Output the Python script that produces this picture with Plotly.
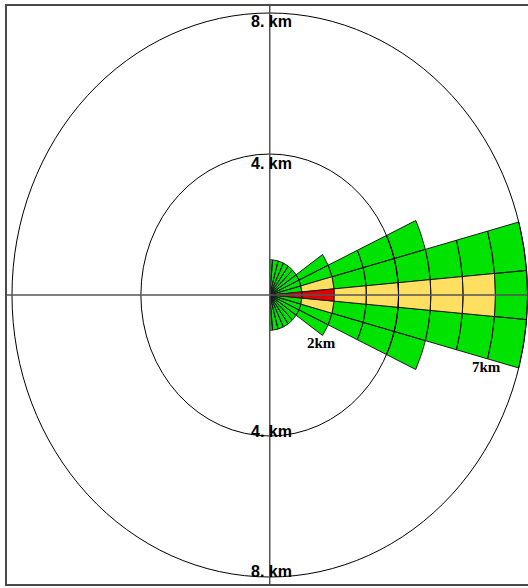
import numpy as np
import plotly.graph_objects as go

# ---------------- data ----------------
ring_inner_km = [0, 1, 2, 3, 4, 5, 6, 7]
ring_outer_km = [1, 2, 3, 4, 5, 6, 7, 8]
# level of each sector, centre sector first, then outward (mirrored both sides)
# 1 = low (green), 2 = medium (yellow), 3 = high (red)
ring_levels = [
    [3, 1, 1, 1, 1, 1, 1, 1, 1, 1],
    [3, 2, 1, 1],
    [2, 1, 1],
    [2, 1, 1],
    [2, 1, 1],
    [2, 1],
    [2, 1],
    [1, 1],
]
sector_width_deg = 10
max_half_angle_deg = 90

level_colors = {1: "#00e200", 2: "#ffdf60", 3: "#e00000"}

circle_km = [4, 8]
circle_labels = ["4. km", "8. km"]

dist_labels = ["2km", "7km"]
dist_label_r = [2, 7]
dist_label_theta = [-35, -15]

# ---------------- geometry helpers ----------------
def sector_xy(r0, r1, a0, a1):
    ang = np.radians(np.linspace(a0, a1, 24))
    xs = list(r1 * np.cos(ang))
    ys = list(r1 * np.sin(ang))
    if r0 > 0:
        xs += list(r0 * np.cos(ang[::-1]))
        ys += list(r0 * np.sin(ang[::-1]))
    else:
        xs.append(0.0)
        ys.append(0.0)
    xs.append(xs[0])
    ys.append(ys[0])
    return xs, ys

poly = {lvl: ([], []) for lvl in level_colors}
half = sector_width_deg / 2
for r0, r1, levels in zip(ring_inner_km, ring_outer_km, ring_levels):
    for k, lvl in enumerate(levels):
        if k == 0:
            spans = [(-half, half)]
        else:
            lo = half + sector_width_deg * (k - 1)
            hi = min(half + sector_width_deg * k, max_half_angle_deg)
            spans = [(lo, hi), (-hi, -lo)]
        for a0, a1 in spans:
            xs, ys = sector_xy(r0, r1, a0, a1)
            poly[lvl][0].extend(xs + [None])
            poly[lvl][1].extend(ys + [None])

fig = go.Figure()
for lvl in [1, 2, 3]:
    xs, ys = poly[lvl]
    fig.add_trace(go.Scatter(
        x=xs, y=ys, mode="lines", fill="toself",
        fillcolor=level_colors[lvl],
        line=dict(color="#1a1a1a", width=1),
        hoverinfo="skip", showlegend=False,
    ))

shapes = []
for c in circle_km:
    shapes.append(dict(type="circle", xref="x", yref="y", x0=-c, x1=c, y0=-c, y1=c,
                       line=dict(color="black", width=1), layer="above"))
# crosshair
shapes.append(dict(type="line", xref="paper", yref="y", x0=6 / 528, x1=1.01, y0=0, y1=0,
                   line=dict(color="#555555", width=1.5), layer="above"))
shapes.append(dict(type="line", xref="x", yref="paper", x0=0, x1=0, y0=1 - 585 / 588, y1=1 - 5 / 588,
                   line=dict(color="#555555", width=1.5), layer="above"))
# frame
shapes.append(dict(type="rect", xref="paper", yref="paper", x0=6 / 528, x1=1.02,
                   y0=1 - 585 / 588, y1=1 - 5 / 588,
                   line=dict(color="#4a4a4a", width=2), fillcolor="rgba(0,0,0,0)", layer="above"))

annotations = []
label_shift = {8: (-8, 6), 4: (-9, 5)}
for c, lab in zip(circle_km, circle_labels):
    top_shift, bot_shift = label_shift[c]
    for sign, ys in [(1, top_shift), (-1, bot_shift)]:
        annotations.append(dict(x=0, y=sign * c, xref="x", yref="y", text="<b>%s</b>" % lab, showarrow=False,
                                xanchor="center", yanchor="middle", xshift=2, yshift=ys,
                                font=dict(family="Liberation Sans, Arial", size=16, color="black")))
for lab, r, th in zip(dist_labels, dist_label_r, dist_label_theta):
    t = np.radians(th)
    annotations.append(dict(x=r * np.cos(t), y=r * np.sin(t), xref="x", yref="y", text="<b>%s</b>" % lab,
                            showarrow=False, xanchor="center", yanchor="middle", xshift=-1, yshift=-8,
                            font=dict(family="Liberation Serif, Times New Roman", size=15, color="black")))

fig.update_layout(
    width=528, height=588, autosize=False,
    margin=dict(l=0, r=0, t=0, b=0, pad=0),
    paper_bgcolor="white", plot_bgcolor="white",
    xaxis=dict(range=[-270 / 32.25, 258.5 / 32.25], visible=False, fixedrange=True),
    yaxis=dict(range=[(295 - 588) / 35.25, 295 / 35.25], visible=False, fixedrange=True),
    shapes=shapes, annotations=annotations, showlegend=False,
)

fig.write_html("out.html")
